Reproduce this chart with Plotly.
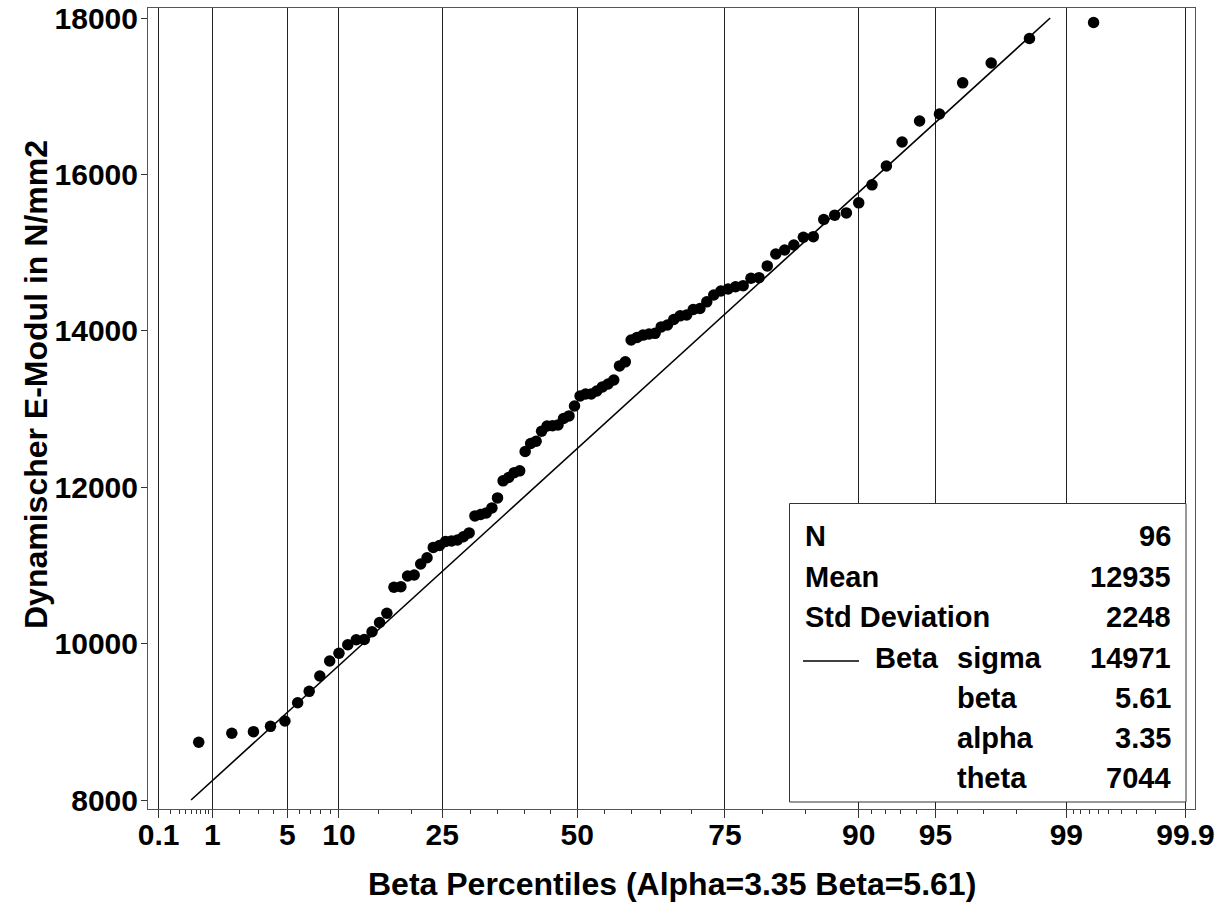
import numpy as np
import plotly.graph_objects as go

# ---------------- data ----------------
ALPHA = 3.35
BETA = 5.61
SIGMA = 14971
THETA = 7044
N_OBS = 96
MEAN = 12935
STD_DEV = 2248

# sorted observations (Dynamischer E-Modul, N/mm2)
emodul = [8738, 8853, 8874, 8942, 9010, 9244, 9390, 9586, 9778, 9876,
          9986, 10049, 10053, 10152, 10270, 10388, 10720, 10728, 10865, 10877,
          11018, 11098, 11230, 11255, 11306, 11313, 11325, 11366, 11416, 11633,
          11651, 11671, 11735, 11863, 12081, 12124, 12186, 12209, 12457, 12559,
          12588, 12716, 12783, 12787, 12796, 12879, 12912, 13039, 13166, 13192,
          13192, 13230, 13283, 13320, 13371, 13551, 13603, 13882, 13916, 13945,
          13959, 13968, 14050, 14074, 14145, 14191, 14202, 14273, 14285, 14370,
          14458, 14509, 14535, 14564, 14577, 14672, 14680, 14830, 14982, 15033,
          15097, 15196, 15204, 15424, 15479, 15508, 15636, 15867, 16107, 16414,
          16683, 16773, 17171, 17425, 17738, 17943]

major_pct = [0.1, 1, 5, 10, 25, 50, 75, 90, 95, 99, 99.9]
major_lbl = ["0.1", "1", "5", "10", "25", "50", "75", "90", "95", "99", "99.9"]
minor_pct = [0.2, 0.3, 0.4, 0.5, 0.6, 0.7, 0.8, 0.9, 2, 3, 4, 6, 7, 8, 9,
             15, 20, 30, 35, 40, 45, 55, 60, 65, 70, 80, 85, 91, 92, 93, 94,
             96, 97, 98, 99.1, 99.2, 99.3, 99.4, 99.5, 99.6, 99.7, 99.8]
y_ticks = [8000, 10000, 12000, 14000, 16000, 18000]
y_lbl = ["8000", "10000", "12000", "14000", "16000", "18000"]

# ---------------- beta quantile function (numeric) ----------------
grid = np.linspace(0.0, 1.0, 400001)
pdf = grid ** (ALPHA - 1) * (1 - grid) ** (BETA - 1)
cdf = np.concatenate([[0.0], np.cumsum((pdf[1:] + pdf[:-1]) / 2 * np.diff(grid))])
cdf /= cdf[-1]


def beta_ppf(p):
    return np.interp(np.asarray(p, dtype=float), cdf, grid)


n = len(emodul)
ranks = np.arange(1, n + 1)
plot_pos = (ranks - 0.375) / (n + 0.25)
xq = beta_ppf(plot_pos)

major_q = beta_ppf(np.array(major_pct) / 100)
minor_q = beta_ppf(np.array(minor_pct) / 100)
q_lo, q_hi = major_q[0], major_q[-1]
span = q_hi - q_lo
x_range = [q_lo - 0.0103 * span, q_hi + 0.0092 * span]

line_q = np.array([(y_ticks[0] - THETA) / SIGMA, (y_ticks[-1] - THETA) / SIGMA])
line_y = THETA + SIGMA * line_q

# ---------------- figure ----------------
FONT = "Liberation Sans"
W, H = 1217, 902
ML, MR, MT, MB = 148, 22, 8, 93
PW, PH = W - ML - MR, H - MT - MB


def px(x):
    return (x - ML) / PW


def py(y):
    return (H - MB - y) / PH


fig = go.Figure()
fig.add_trace(go.Scatter(x=line_q, y=line_y, mode="lines",
                         line=dict(color="black", width=1.6),
                         showlegend=False, hoverinfo="skip"))
fig.add_trace(go.Scatter(x=xq, y=emodul, mode="markers",
                         marker=dict(color="black", size=11.5, line=dict(width=0)),
                         showlegend=False))

# inset statistics box
fig.add_shape(type="rect", xref="paper", yref="paper",
              x0=px(789.5), x1=px(1186), y0=py(802), y1=py(503.5),
              line=dict(color="#333", width=1), fillcolor="white", layer="above")
fig.add_shape(type="line", xref="paper", yref="paper",
              x0=px(803), x1=px(859), y0=py(661), y1=py(661),
              line=dict(color="black", width=1.6), layer="above")

rows = [
    ("N", None, str(N_OBS), 536),
    ("Mean", None, str(MEAN), 577),
    ("Std Deviation", None, str(STD_DEV), 617),
    ("Beta", "sigma", str(SIGMA), 658),
    (None, "beta", f"{BETA:.2f}", 698),
    (None, "alpha", f"{ALPHA:.2f}", 738),
    (None, "theta", str(THETA), 778),
]
lf = dict(family=FONT, size=29, color="black", weight="bold")
for lab, sub, val, yc in rows:
    if lab is not None:
        x0 = 803 if sub is None else 873
        fig.add_annotation(x=px(x0), y=py(yc), xref="paper", yref="paper",
                           text=lab, showarrow=False, xanchor="left",
                           yanchor="middle", font=lf)
    if sub is not None:
        fig.add_annotation(x=px(955), y=py(yc), xref="paper", yref="paper",
                           text=sub, showarrow=False, xanchor="left",
                           yanchor="middle", font=lf)
    fig.add_annotation(x=px(1173), y=py(yc), xref="paper", yref="paper",
                       text=val, showarrow=False, xanchor="right",
                       yanchor="middle", font=lf)

tickfont = dict(family=FONT, size=30, color="black", weight="bold")
titlefont = dict(family=FONT, size=32, color="black", weight="bold")

# axis titles as annotations for precise placement
fig.add_annotation(x=px(671.5), y=py(884), xref="paper", yref="paper",
                   text=f"Beta Percentiles (Alpha={ALPHA:.2f} Beta={BETA:.2f})",
                   showarrow=False, xanchor="center", yanchor="middle",
                   font=titlefont)
fig.add_annotation(x=px(36), y=py(385), xref="paper", yref="paper",
                   text="Dynamischer E-Modul in N/mm2", textangle=-90,
                   showarrow=False, xanchor="center", yanchor="middle",
                   font=titlefont)

fig.update_layout(
    template="none",
    width=W, height=H,
    margin=dict(l=ML, r=MR, t=MT, b=MB, pad=0),
    paper_bgcolor="white", plot_bgcolor="white",
    showlegend=False,
    xaxis=dict(
        range=x_range, autorange=False,
        tickmode="array", tickvals=major_q, ticktext=major_lbl,
        ticks="outside", ticklen=8, tickwidth=1, tickcolor="#333",
        ticklabelstandoff=-9,
        showgrid=True, gridcolor="#222", gridwidth=1,
        zeroline=False, showline=True, linecolor="#555", linewidth=1, mirror=True,
        tickfont=tickfont, automargin=False,
        minor=dict(tickmode="array", tickvals=minor_q, ticks="outside",
                   ticklen=4, tickwidth=1, tickcolor="#333", showgrid=False),
    ),
    yaxis=dict(
        range=[7885, 18128], autorange=False,
        tickmode="array", tickvals=y_ticks, ticktext=y_lbl,
        ticks="outside", ticklen=6, tickwidth=1, tickcolor="#333",
        ticklabelstandoff=-3,
        showgrid=False, zeroline=False,
        showline=True, linecolor="#555", linewidth=1, mirror=True,
        tickfont=tickfont, automargin=False,
    ),
)

fig.write_html("out.html")
